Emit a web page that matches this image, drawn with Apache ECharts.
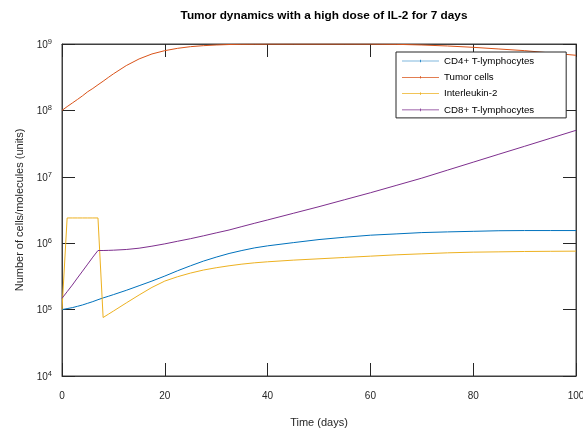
<!DOCTYPE html>
<html>
<head>
<meta charset="utf-8">
<script src="https://cdn.jsdelivr.net/npm/echarts@6/dist/echarts.min.js"></script>
<style>
  html, body { margin: 0; padding: 0; background: #fff; }
  #main { width: 583px; height: 431px; }
</style>
</head>
<body>
<div id="main"></div>
<script>
// time points (days)
var days = [0, 1, 2, 3, 4, 5, 6, 7, 8, 9, 10, 12.5, 15, 17.5, 20, 22.5, 25, 27.5, 30, 32.5, 35, 37.5, 40,
  45, 50, 55, 60, 65, 70, 75, 80, 85, 90, 95, 100];

// CD4+ T-lymphocytes
var cd4 = [1.0e5, 1.035e5, 1.07e5, 1.12e5, 1.175e5, 1.245e5, 1.32e5, 1.41e5, 1.50e5, 1.585e5, 1.68e5,
  1.95e5, 2.29e5, 2.69e5, 3.20e5, 3.85e5, 4.57e5, 5.37e5, 6.17e5, 7.00e5, 7.76e5, 8.51e5, 9.12e5,
  1.02e6, 1.135e6, 1.23e6, 1.32e6, 1.38e6, 1.445e6, 1.48e6, 1.51e6, 1.54e6, 1.55e6, 1.55e6, 1.55e6];
// tumor cells
var tumor = [1.0e8, 1.14e8, 1.29e8, 1.46e8, 1.66e8, 1.91e8, 2.14e8, 2.43e8, 2.75e8, 3.13e8, 3.55e8,
  4.73e8, 5.96e8, 7.08e8, 7.94e8, 8.61e8, 9.12e8, 9.44e8, 9.66e8, 9.82e8, 9.91e8, 9.95e8, 9.97e8,
  9.98e8, 9.98e8, 9.98e8, 9.97e8, 9.89e8, 9.66e8, 9.33e8, 8.91e8, 8.41e8, 7.94e8, 7.33e8, 6.76e8];
// interleukin-2
var il2 = [1.0e5, 2.4e6, 2.4e6, 2.4e6, 2.4e6, 2.4e6, 2.4e6, 2.4e6, 7.6e4, 8.5e4, 9.5e4,
  1.26e5, 1.66e5, 2.16e5, 2.69e5, 3.13e5, 3.55e5, 3.94e5, 4.27e5, 4.57e5, 4.84e5, 5.07e5, 5.25e5,
  5.56e5, 5.82e5, 6.10e5, 6.38e5, 6.68e5, 6.92e5, 7.16e5, 7.33e5, 7.41e5, 7.50e5, 7.55e5, 7.59e5];
// CD8+ T-lymphocytes
var cd8 = [1.48e5, 1.86e5, 2.34e5, 2.99e5, 3.80e5, 4.84e5, 6.17e5, 7.76e5, 7.76e5, 7.80e5, 7.85e5,
  8.04e5, 8.41e5, 9.02e5, 9.77e5, 1.07e6, 1.17e6, 1.29e6, 1.43e6, 1.58e6, 1.78e6, 2.00e6, 2.24e6,
  2.82e6, 3.55e6, 4.52e6, 5.75e6, 7.41e6, 9.55e6, 1.26e7, 1.66e7, 2.19e7, 2.88e7, 3.80e7, 5.01e7];

var names = ['CD4+ T-lymphocytes', 'Tumor cells', 'Interleukin-2', 'CD8+ T-lymphocytes'];
var colors = ['#0072BD', '#D95319', '#EDB120', '#7E2F8E'];
var xTicks = [0, 20, 40, 60, 80, 100];

function pairs(ys) {
  return days.map(function (d, i) { return [d, ys[i]]; });
}

var font = 'Liberation Sans, Arial, Helvetica, sans-serif';
var axisCol = '#404040';

var myChart = echarts.init(document.getElementById('main'));

var baseX = {
  type: 'value', min: xTicks[0], max: xTicks[xTicks.length - 1], interval: 20,
  axisLine: { show: true, onZero: false, lineStyle: { color: axisCol, width: 1 } },
  axisTick: { show: true, inside: true, length: 13, lineStyle: { color: '#262626' } },
  splitLine: { show: false }
};
var baseY = {
  type: 'log', logBase: 10, min: 1e4, max: 1e9,
  axisLine: { show: true, onZero: false, lineStyle: { color: axisCol, width: 1 } },
  axisTick: { show: true, inside: true, length: 13, lineStyle: { color: '#262626' } },
  splitLine: { show: false }
};

var option = {
  animation: false,
  backgroundColor: '#fff',
  textStyle: { fontFamily: font },
  title: {
    text: 'Tumor dynamics with a high dose of IL-2 for 7 days',
    left: 319, top: 5, textAlign: 'center',
    textStyle: { fontSize: 11.8, fontWeight: 'bold', color: '#000', fontFamily: font }
  },
  grid: {
    left: 62, right: 7, top: 44, bottom: 55, outerBoundsMode: 'none', containLabel: false,
    show: true, borderWidth: 1, borderColor: axisCol, backgroundColor: 'transparent'
  },
  legend: {
    orient: 'vertical', left: 396, top: 52,
    data: names,
    itemWidth: 37, itemHeight: 10, itemGap: 6.3,
    padding: [4, 32, 3, 6],
    borderColor: '#262626', borderWidth: 1, backgroundColor: '#fff',
    icon: 'path://M0,4.6H40V5.4H0Z M19.6,3.6H20.4V6.4H19.6Z',
    textStyle: { fontSize: 9.7, color: '#000', fontFamily: font }
  },
  xAxis: [
    Object.assign({}, baseX, {
      position: 'bottom',
      name: 'Time (days)', nameLocation: 'middle', nameGap: 41,
      nameTextStyle: { fontSize: 11, color: '#262626', fontFamily: font },
      axisLabel: { margin: 15, fontSize: 10, color: '#262626', fontFamily: font }
    }),
    Object.assign({}, baseX, { position: 'top', axisLabel: { show: false } })
  ],
  yAxis: [
    Object.assign({}, baseY, {
      position: 'left',
      name: 'Number of cells/molecules (units)', nameLocation: 'middle', nameGap: 37,
      nameTextStyle: { fontSize: 11, color: '#262626', fontFamily: font },
      axisLabel: {
        margin: 10, color: '#262626',
        formatter: function (v) { return '{b|10}{s|' + Math.round(Math.log10(v)) + '}'; },
        rich: {
          b: { fontSize: 10, color: '#262626', fontFamily: font, padding: [2, 0, 0, 0] },
          s: { fontSize: 7.5, color: '#262626', fontFamily: font, padding: [0, 0, 4, 0] }
        }
      }
    }),
    Object.assign({}, baseY, { position: 'right', offset: 0, axisLabel: { show: false } })
  ],
  series: [cd4, tumor, il2, cd8].map(function (ys, i) {
    return {
      name: names[i], type: 'line', xAxisIndex: 0, yAxisIndex: 0,
      data: pairs(ys), showSymbol: false, symbol: 'none',
      lineStyle: { color: colors[i], width: 1 },
      itemStyle: { color: colors[i] }
    };
  })
};

myChart.setOption(option);
</script>
</body>
</html>
